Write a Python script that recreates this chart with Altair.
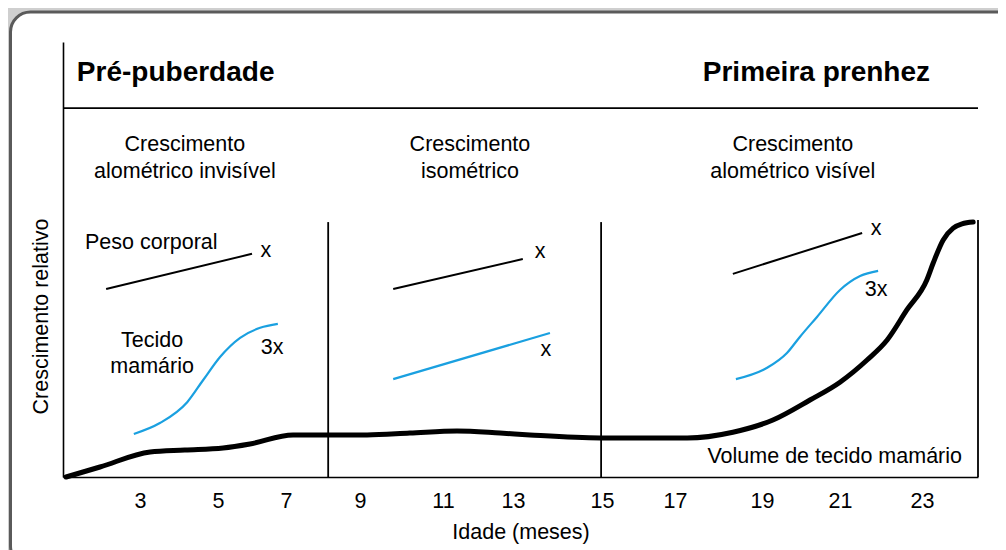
import altair as alt
import pandas as pd

# ---------------- data ----------------
tick_months = [3, 5, 7, 9, 11, 13, 15, 17, 19, 21, 23]

# thick curve: volume of mammary tissue
vol_month = [1.08, 1.96, 3.26, 4.15, 5.15, 5.94, 7.19, 9.17, 10.2, 11.4, 12.63, 13.38,
             14.96, 17.28, 18.33, 19.28, 20.23, 21.0, 21.66, 22.15, 22.63, 23.12,
             23.28, 23.53, 23.78, 24.0, 24.28]
vol_value = [0.0, 2.3, 5.75, 6.2, 6.67, 7.59, 9.66, 9.66, 10.1, 10.6, 10.1, 9.66,
             8.97, 8.97, 10.3, 13.1, 17.7, 21.8, 26.9, 31.5, 38.4, 45.3,
             49.2, 54.5, 57.2, 58.2, 58.6]

# body weight segments (black, thin)
peso_group = ["a", "a", "b", "b", "c", "c"]
peso_month = [2.12, 6.0, 9.80, 13.22, 18.33, 21.54]
peso_value = [43.2, 51.3, 43.2, 50.1, 46.7, 56.1]

# mammary tissue segments (blue)
tec_group = ["a"] * 8 + ["b"] * 2 + ["c"] * 8
tec_month = [2.84, 3.51, 4.21, 4.62, 5.06, 5.65, 6.24, 6.76,
             9.80, 13.83,
             18.40, 19.13, 19.64, 19.97, 20.41, 21.0, 21.49, 21.93]
tec_value = [9.89, 12.4, 17.2, 22.3, 27.6, 32.0, 34.3, 35.2,
             22.5, 33.1,
             22.5, 25.1, 28.5, 32.2, 36.8, 43.0, 46.2, 47.4]

# phase dividers (vertical) and top line
div_month = [8.14, 14.98, 24.4]
div_top = [58.6, 58.6, 59.1]
top_line_value = [84.8]
x_min, x_max = 1, 24.4

# annotations
center_text = ["Crescimento", "alométrico invisível",
               "Crescimento", "isométrico",
               "Crescimento", "alométrico visível",
               "Tecido", "mamário",
               "x", "3x", "x", "x", "x", "3x"]
center_month = [4.15, 4.15, 11.77, 11.77, 19.79, 19.79,
                3.31, 3.31,
                6.41, 6.59, 13.61, 13.74, 21.88, 21.88]
center_value = [76.3, 70.1, 76.3, 70.1, 76.3, 70.1,
                31.3, 25.3,
                52.0, 29.7, 51.7, 29.2, 57.0, 43.0]

# ---------------- chart ----------------
FONT = "Liberation Sans"
BLUE = "#1aa0e0"

xscale = alt.Scale(domain=[1, 3, 5, 7, 9, 11, 13, 15, 17, 19, 21, 23, 24.4],
                   range=[0, 77, 155, 223, 297, 380, 450, 539, 612, 699, 777, 859, 915],
                   nice=False, zero=False)
yscale = alt.Scale(domain=[0, 100], nice=False, zero=False)

X = alt.X("m:Q", scale=xscale,
          axis=alt.Axis(values=tick_months, ticks=False, grid=False, labelFontSize=21.5,
                        labelPadding=13, labelColor="black", title="Idade (meses)",
                        titleFontSize=21.5, titleFontWeight="normal", titlePadding=10,
                        titleColor="black", domainColor="black", domainWidth=1.6,
                        labelFont=FONT, titleFont=FONT, zindex=1))
Y = alt.Y("v:Q", scale=yscale,
          axis=alt.Axis(labels=False, ticks=False, grid=False, title="Crescimento relativo",
                        titleFontSize=21.5, titleFontWeight="normal", titleColor="black",
                        titleX=-21.5, titleY=274, titleAngle=-90, titleBaseline="middle",
                        titleAlign="center", domainColor="black", domainWidth=1.6,
                        titleFont=FONT, zindex=1))

panel = alt.Chart(pd.DataFrame({"k": [0]})).mark_rect(
    fill="white", stroke="#5a5a5a", strokeWidth=3, cornerRadius=20
).encode(x=alt.value(-52.5), x2=alt.value(975), y=alt.value(-30), y2=alt.value(524))

vol = alt.Chart(pd.DataFrame({"m": vol_month, "v": vol_value})).mark_line(
    color="black", strokeWidth=5, interpolate="monotone", strokeCap="round"
).encode(x=X, y=Y)

peso = alt.Chart(pd.DataFrame({"g": peso_group, "m": peso_month, "v": peso_value})).mark_line(
    color="black", strokeWidth=2
).encode(x=X, y=Y, detail="g:N")

tec = alt.Chart(pd.DataFrame({"g": tec_group, "m": tec_month, "v": tec_value})).mark_line(
    color=BLUE, strokeWidth=2.2, interpolate="monotone"
).encode(x=X, y=Y, detail="g:N")

dividers = alt.Chart(pd.DataFrame({"m": div_month, "v": [0] * 3, "v2": div_top})).mark_rule(
    color="black", strokeWidth=1.8
).encode(x=X, y=Y, y2=alt.Y2("v2"))

topline = alt.Chart(pd.DataFrame({"m": [x_min], "m2": [x_max], "v": top_line_value})).mark_rule(
    color="black", strokeWidth=1.8
).encode(x=X, x2=alt.X2("m2"), y=Y)

t_left_bold = alt.Chart(pd.DataFrame({"m": [1.36], "v": [92.9], "t": ["Pré-puberdade"]})).mark_text(
    align="left", baseline="middle", fontSize=28, fontWeight="bold", font=FONT, color="black"
).encode(x=X, y=Y, text="t:N")

t_right_bold = alt.Chart(pd.DataFrame({"m": [23.2], "v": [92.9], "t": ["Primeira prenhez"]})).mark_text(
    align="right", baseline="middle", fontSize=28, fontWeight="bold", font=FONT, color="black"
).encode(x=X, y=Y, text="t:N")

t_center = alt.Chart(pd.DataFrame({"m": center_month, "v": center_value, "t": center_text})).mark_text(
    align="center", baseline="middle", fontSize=21.5, font=FONT, color="black"
).encode(x=X, y=Y, text="t:N")

t_left = alt.Chart(pd.DataFrame({"m": [1.57], "v": [53.8], "t": ["Peso corporal"]})).mark_text(
    align="left", baseline="middle", fontSize=21.5, font=FONT, color="black"
).encode(x=X, y=Y, text="t:N")

t_right = alt.Chart(pd.DataFrame({"m": [24.0], "v": [4.6], "t": ["Volume de tecido mamário"]})).mark_text(
    align="right", baseline="middle", fontSize=21.5, font=FONT, color="black"
).encode(x=X, y=Y, text="t:N")

chart = alt.layer(
    panel, dividers, topline, peso, tec, vol,
    t_left_bold, t_right_bold, t_center, t_left, t_right
).properties(
    width=915, height=435,
    autosize=alt.AutoSizeParams(type="none"),
    padding={"left": 55, "top": 34, "right": 20, "bottom": 73},
    background="#cfcfcf",
).configure_view(stroke=None).configure(font=FONT)

chart.save("out.html", embed_options={"renderer": "svg", "actions": False})
